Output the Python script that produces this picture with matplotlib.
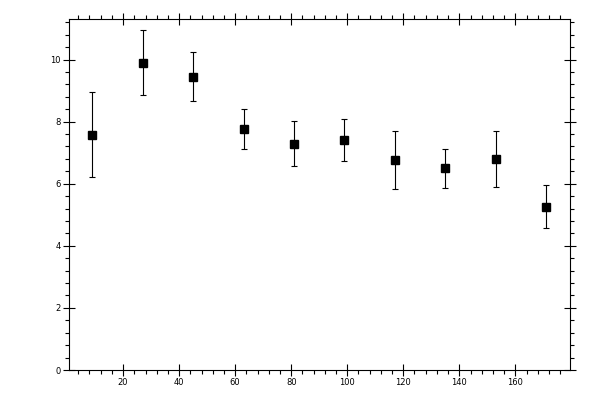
import matplotlib
matplotlib.use("Agg")
import matplotlib.pyplot as plt
from matplotlib.ticker import MultipleLocator

x_values = [9, 27, 45, 63, 81, 99, 117, 135, 153, 171]
y_values = [7.58, 9.90, 9.45, 7.77, 7.29, 7.42, 6.77, 6.52, 6.81, 5.26]
y_upper = [8.97, 10.95, 10.23, 8.42, 8.03, 8.10, 7.71, 7.13, 7.71, 5.97]
y_lower = [6.23, 8.87, 8.68, 7.11, 6.58, 6.74, 5.84, 5.87, 5.90, 4.58]

err_low = [v - l for v, l in zip(y_values, y_lower)]
err_high = [u - v for v, u in zip(y_values, y_upper)]

fig = plt.figure(figsize=(6, 4), dpi=100)
ax = fig.add_axes([0.1155, 0.075, 0.8345, 0.877])

ax.errorbar(x_values, y_values, yerr=[err_low, err_high], fmt='s', color='black',
            ecolor='black', markersize=5.5, elinewidth=0.8, capsize=2.0, capthick=0.8)

ax.set_xlim(0.8, 179.5)
ax.set_ylim(0, 11.3)

ax.xaxis.set_major_locator(MultipleLocator(20))
ax.xaxis.set_minor_locator(MultipleLocator(4))
ax.yaxis.set_major_locator(MultipleLocator(2))
ax.yaxis.set_minor_locator(MultipleLocator(0.4))

for s in ax.spines.values():
    s.set_linewidth(0.8)

ax.tick_params(which='major', direction='inout', length=8, width=0.8,
               top=True, right=True, labelsize=6)
ax.tick_params(which='minor', direction='out', length=3, width=0.8,
               top=True, right=True)
ax.tick_params(axis='y', which='major', pad=2)
ax.tick_params(axis='x', which='major', pad=2)

xt = [t for t in ax.get_xticks() if 0.8 < t < 179.5]
ax.set_xticks(xt)
ax.set_xticklabels([f"{int(t)}" if t > 0 else "" for t in xt])
ax.set_yticks([0, 2, 4, 6, 8, 10])

fig.savefig("out.png", dpi=100)
